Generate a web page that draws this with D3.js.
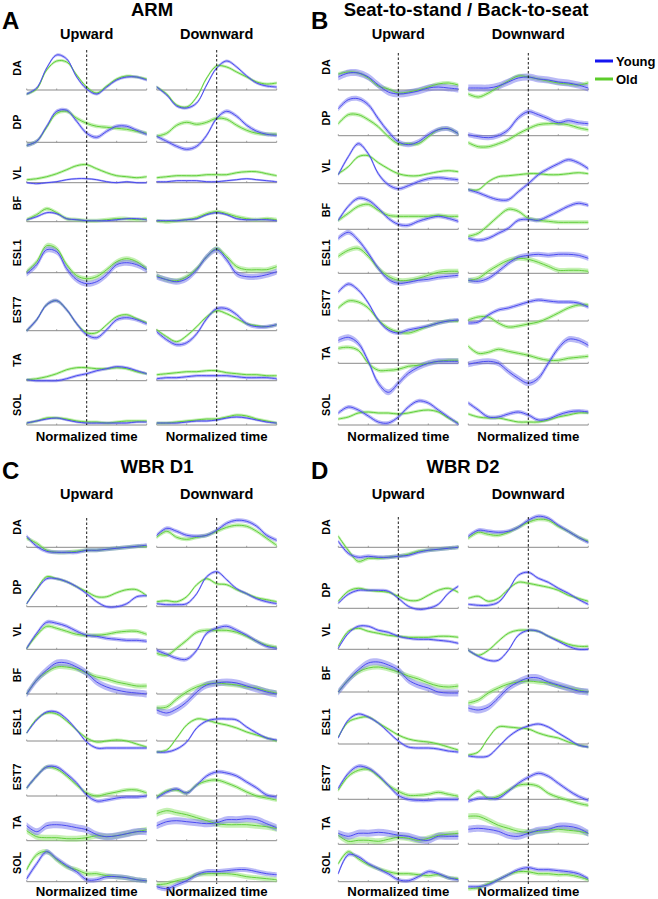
<!DOCTYPE html>
<html>
<head>
<meta charset="utf-8">
<script src="https://cdn.jsdelivr.net/npm/d3@7"></script>
<style>
  body { margin: 0; background: #fff; }
  text { font-family: "Liberation Sans", Arial, sans-serif; font-weight: bold; fill: #000; }
</style>
</head>
<body>
<div id="container"></div>
<script>
/* DATA */
// normalized time, 13 samples per curve
const T = d3.range(13).map(i => i / 12);
const muscles = ["DA", "DP", "VL", "BF", "ESL1", "EST7", "TA", "SOL"];
const groups = ["Young", "Old"];

// ARM
const armUpYoung = [
  [-0.4, 0.2, 2.2, 3.5, 3.1, 1.3, 0.1, -0.4, 0.3, 1.0, 1.3, 1.3, 1.0],
  [-0.3, 0.1, 1.6, 3.1, 3.2, 2.1, 0.9, 0.5, 1.1, 1.6, 1.6, 1.2, 0.8],
  [0, -0.1, 0, 0.1, 0.3, 0.4, 0.4, 0.3, 0.1, 0, 0.1, 0, 0],
  [0.2, 0.5, 0.9, 0.8, 0.3, 0.2, 0.1, 0.1, 0.1, 0.2, 0.3, 0.3, 0.2],
  [-0.1, 0.8, 2.3, 2.1, 0.4, -0.7, -1.1, -0.9, -0.2, 0.8, 1.0, 0.8, 0.3],
  [0, 1.1, 2.6, 3.0, 2.1, 0.7, -0.4, -0.7, 0.1, 1.1, 1.3, 1.1, 0.7],
  [0.1, 0, 0, 0, 0.2, 0.5, 0.7, 1.0, 1.2, 1.4, 1.3, 1.0, 0.7],
  [0.2, 0.4, 0.6, 0.7, 0.5, 0.3, 0.2, 0.2, 0.2, 0.2, 0.2, 0.3, 0.3]
];
const armUpOld = [
  [-0.4, 0.1, 2.0, 2.9, 2.8, 1.5, 0.3, -0.3, 0.4, 1.1, 1.4, 1.3, 1.1],
  [-0.3, 0.1, 1.5, 2.9, 3.1, 2.4, 1.9, 1.6, 1.5, 1.4, 1.3, 1.1, 0.9],
  [0.3, 0.4, 0.6, 0.9, 1.3, 1.7, 1.8, 1.4, 1.0, 0.7, 0.6, 0.5, 0.6],
  [0.2, 0.7, 1.3, 0.9, 0.3, 0.2, 0.1, 0.1, 0.2, 0.3, 0.3, 0.2, 0.3],
  [0.1, 1.1, 2.7, 2.4, 0.8, -0.3, -0.6, -0.4, 0.3, 1.1, 1.4, 1.1, 0.4],
  [0, 1.1, 2.6, 3.0, 2.1, 0.7, -0.2, -0.2, 0.6, 1.4, 1.6, 1.2, 0.8],
  [0.1, 0.2, 0.4, 0.7, 1.1, 1.3, 1.3, 1.2, 1.2, 1.3, 1.2, 0.9, 0.7],
  [0.2, 0.4, 0.7, 0.7, 0.6, 0.4, 0.3, 0.3, 0.2, 0.3, 0.4, 0.4, 0.4]
];
const armDownYoung = [
  [0.3, -0.5, -1.6, -1.8, -1.3, 0.5, 2.2, 2.9, 2.3, 1.4, 0.7, 0.4, 0.3],
  [0.6, 0.1, -0.4, -0.7, -0.4, 0.7, 2.4, 3.1, 2.6, 1.7, 1.1, 0.8, 0.7],
  [0.1, 0.1, 0.2, 0.2, 0.2, 0.1, 0.1, 0.2, 0.3, 0.4, 0.3, 0.2, 0.1],
  [0.1, 0.1, 0.1, 0.2, 0.3, 0.7, 0.9, 0.7, 0.3, 0.2, 0.2, 0.2, 0.1],
  [-0.4, -0.7, -0.9, -0.6, 0.3, 1.6, 2.3, 1.3, -0.1, -0.4, -0.4, -0.2, 0.1],
  [-0.1, -0.9, -1.4, -1.2, -0.3, 1.2, 2.2, 2.2, 1.6, 0.7, 0.4, 0.4, 0.6],
  [0.2, 0.3, 0.3, 0.4, 0.5, 0.5, 0.5, 0.5, 0.4, 0.3, 0.3, 0.3, 0.2],
  [0.2, 0.2, 0.2, 0.3, 0.4, 0.4, 0.5, 0.7, 0.8, 0.7, 0.5, 0.3, 0.2]
];
const armDownOld = [
  [0.3, -0.4, -1.5, -1.7, -0.7, 1.2, 2.4, 2.3, 1.8, 1.3, 0.8, 0.6, 0.7],
  [0.6, 0.9, 1.7, 2.0, 1.8, 2.0, 2.4, 2.3, 1.7, 1.2, 0.9, 0.8, 0.8],
  [0.5, 0.6, 0.7, 0.7, 0.7, 0.8, 0.8, 0.8, 1.0, 1.1, 1.1, 0.9, 0.7],
  [0.1, 0, 0.1, 0.2, 0.4, 0.8, 1.0, 0.8, 0.5, 0.3, 0.2, 0.3, 0.2],
  [-0.3, -0.7, -0.8, -0.4, 0.4, 1.6, 2.4, 1.6, 0.6, 0.3, 0.3, 0.3, 0.6],
  [0.1, -0.6, -1.1, -0.5, 0.4, 1.4, 2.0, 1.7, 1.2, 0.7, 0.5, 0.4, 0.6],
  [0.6, 0.7, 0.8, 0.9, 0.9, 1.0, 1.0, 0.8, 0.7, 0.6, 0.6, 0.5, 0.5],
  [0.2, 0.2, 0.3, 0.4, 0.5, 0.6, 0.6, 0.8, 1.0, 0.9, 0.6, 0.4, 0.2]
];
const armSdYoung = [0.15, 0.2, 0.1, 0.12, 0.3, 0.2, 0.15, 0.12];
const armSdOld = [0.15, 0.2, 0.15, 0.2, 0.25, 0.15, 0.15, 0.15];

// Seat-to-stand / Back-to-seat
const stsUpYoung = [
  [1.3, 1.7, 1.7, 1.3, 0.5, -0.2, -0.4, -0.3, -0.1, 0.2, 0.3, 0.2, 0.1],
  [2.7, 3.6, 3.7, 3.1, 1.7, 0.4, -0.6, -0.9, -0.6, 0.1, 0.6, 0.7, 0.2],
  [0.9, 2.7, 4.0, 3.0, 1.0, -0.1, -0.5, -0.2, 0.2, 0.5, 0.6, 0.5, 0.4],
  [0.9, 2.3, 3.1, 2.9, 2.1, 1.1, 0.5, 0.4, 0.8, 1.1, 1.3, 1.1, 0.8],
  [3.5, 4.1, 3.3, 2.0, 0.5, -0.6, -1.0, -0.9, -0.7, -0.6, -0.4, -0.3, -0.2],
  [2.9, 3.7, 3.1, 1.8, 0.1, -0.9, -1.2, -0.9, -0.7, -0.5, -0.2, 0, 0.1],
  [2.3, 2.6, 2.0, 0.2, -2.0, -2.9, -2.0, -1.0, -0.4, 0, 0.2, 0.2, 0.2],
  [1.2, 1.8, 1.5, 0.9, 0.3, 0.2, 0.8, 1.8, 2.4, 2.2, 1.5, 0.8, 0.1]
];
const stsUpOld = [
  [1.6, 1.8, 1.7, 1.2, 0.4, 0.1, -0.3, -0.2, 0, 0.3, 0.6, 0.7, 0.5],
  [1.2, 2.1, 2.1, 1.6, 0.9, -0.1, -0.8, -0.8, -0.8, -0.1, 0.6, 0.7, 0.2],
  [1.0, 1.7, 2.7, 2.8, 2.1, 1.5, 1.0, 0.8, 0.8, 1.0, 1.2, 1.3, 1.2],
  [0.9, 1.6, 2.3, 2.5, 1.9, 1.4, 1.3, 1.3, 1.3, 1.3, 1.4, 1.3, 1.3],
  [1.7, 2.3, 2.5, 1.7, 0.5, -0.3, -0.7, -0.7, -0.5, -0.2, 0.1, 0.2, 0.2],
  [1.3, 2.0, 1.9, 1.3, 0.1, -0.7, -1.1, -1.2, -0.9, -0.5, -0.2, 0, 0],
  [1.5, 1.6, 1.3, 0, -0.7, -0.7, -0.6, -0.3, -0.2, 0, 0.2, 0.3, 0.3],
  [0.6, 0.8, 1.2, 1.3, 1.2, 1.2, 1.1, 1.2, 1.4, 1.5, 1.3, 0.7, 0.2]
];
const stsDownYoung = [
  [0.2, 0.2, 0.2, 0.4, 0.8, 1.2, 1.3, 1.1, 1.0, 0.8, 0.7, 0.5, 0.2],
  [0.1, -0.1, -0.2, 0, 0.6, 1.8, 2.4, 2.1, 1.7, 1.3, 1.5, 1.3, 1.2],
  [-0.6, -0.9, -1.3, -1.6, -1.6, -0.8, 0, 0.9, 1.5, 2.0, 2.4, 2.1, 1.5],
  [-0.9, -1.1, -0.9, -0.4, 0.1, 0.9, 1.0, 0.9, 1.3, 1.8, 2.3, 2.6, 2.4],
  [-0.7, -0.8, -0.5, 0.2, 1.0, 1.6, 1.8, 1.9, 1.8, 1.9, 1.9, 1.8, 1.5],
  [-0.2, -0.1, 0.6, 1.1, 1.3, 1.6, 1.9, 2.1, 2.0, 1.9, 1.9, 1.8, 1.4],
  [-0.1, 0.1, 0.2, 0, -0.8, -1.5, -2.0, -1.5, 0, 1.5, 2.4, 2.3, 1.8],
  [2.2, 1.5, 0.8, 0.8, 1.1, 1.3, 1.0, 0.5, 0.6, 1.0, 1.3, 1.4, 1.3]
];
const stsDownOld = [
  [-0.4, -0.7, -0.3, 0.3, 0.9, 1.4, 1.3, 1.1, 0.9, 0.7, 0.6, 0.5, 0.7],
  [-0.7, -1.1, -1.1, -0.8, -0.4, 0.2, 0.7, 1.1, 1.2, 1.2, 1.1, 0.8, 0.6],
  [-0.6, -0.6, 0.2, 0.7, 0.8, 0.9, 1.0, 1.0, 0.9, 0.9, 1.0, 1.1, 1.0],
  [-0.7, -0.4, 0.4, 1.3, 2.0, 1.8, 1.1, 0.9, 0.8, 0.7, 0.7, 0.7, 0.7],
  [-0.7, -0.5, 0.2, 0.8, 1.3, 1.5, 1.4, 1.1, 0.7, 0.3, 0.3, 0.3, 0.2],
  [0.1, 0.4, 0.4, -0.2, -0.6, -0.5, -0.3, -0.1, 0.3, 0.8, 1.3, 1.6, 1.6],
  [1.7, 1.0, 1.1, 1.4, 1.2, 1.0, 0.8, 0.5, 0.3, 0.3, 0.5, 0.6, 0.7],
  [1.1, 0.8, 0.7, 0.7, 0.5, 0.3, 0.3, 0.3, 0.5, 0.8, 1.0, 1.2, 1.2]
];
const stsSdYoung = [0.35, 0.25, 0.2, 0.2, 0.25, 0.2, 0.3, 0.2];
const stsSdOld = [0.2, 0.2, 0.15, 0.2, 0.25, 0.2, 0.2, 0.15];

// WBR D1
const wbr1UpYoung = [
  [1.1, 0.1, -0.4, -0.5, -0.5, -0.5, -0.3, -0.3, -0.2, -0.1, 0, 0.1, 0.2],
  [0.3, 1.7, 2.8, 2.8, 2.5, 2.0, 1.3, 0.5, 0, 0, 0.3, 1.0, 1.1],
  [0.1, 1.6, 2.7, 2.6, 2.3, 1.8, 1.4, 1.3, 1.1, 1.0, 0.9, 0.9, 0.8],
  [0, 1.4, 2.4, 3.1, 3.1, 2.7, 2.1, 1.2, 0.7, 0.4, 0.2, 0.1, 0],
  [0.8, 2.1, 2.9, 2.9, 2.2, 1.1, -0.1, -0.7, -0.7, -0.7, -0.7, -0.7, -0.7],
  [0.8, 2.0, 2.9, 2.9, 2.2, 1.3, 0.1, -0.5, -0.4, -0.2, -0.1, -0.1, 0],
  [1.5, 0.9, 1.5, 1.6, 1.5, 1.3, 1.1, 0.6, 0.4, 0.5, 0.7, 0.9, 0.9],
  [0.3, 1.8, 3.0, 2.3, 1.6, 1.0, 0.2, 0.2, 0.5, 0.5, 0.4, 0.2, 0.1]
];
const wbr1UpOld = [
  [0.9, 0.4, -0.3, -0.5, -0.5, -0.4, -0.3, -0.3, -0.2, -0.1, 0, 0.1, 0.1],
  [0.3, 1.8, 3.0, 2.8, 2.5, 2.0, 1.5, 1.0, 1.0, 1.4, 1.7, 1.7, 1.1],
  [0.1, 1.4, 2.3, 2.1, 1.8, 1.5, 1.4, 1.4, 1.5, 1.7, 1.8, 1.8, 1.5],
  [0, 1.4, 2.2, 2.7, 2.7, 2.5, 2.1, 1.7, 1.5, 1.2, 1.0, 0.8, 0.8],
  [0.8, 2.2, 2.8, 2.7, 2.0, 1.1, 0.3, -0.1, 0, 0.1, 0, -0.3, -0.6],
  [0.8, 2.0, 2.9, 2.7, 2.0, 1.1, 0.3, 0, 0.2, 0.4, 0.6, 0.6, 0.3],
  [1.0, 0.4, 0.3, 0.3, 0.2, 0.2, 0.3, 0.5, 0.4, 0.5, 0.7, 0.9, 1.1],
  [1.2, 2.7, 3.0, 2.2, 1.5, 1.2, 0.8, 0.8, 0.6, 0.5, 0.4, 0.2, 0.1]
];
const wbr1DownYoung = [
  [1.2, 1.9, 1.6, 1.2, 1.1, 1.2, 1.7, 2.4, 2.7, 2.6, 2.1, 1.2, 0.7],
  [0.3, 0.2, 0.2, 0.3, 1.3, 3.0, 3.5, 2.7, 1.8, 1.3, 0.8, 0.5, 0.3],
  [-0.1, -0.5, -0.9, -1.0, -0.1, 1.6, 2.1, 2.3, 1.9, 1.4, 0.8, 0.3, 0.1],
  [-1.6, -1.9, -1.5, -0.8, 0.2, 0.9, 1.1, 1.2, 1.1, 0.8, 0.5, 0.2, 0],
  [-1.1, -1.1, -0.8, -0.1, 1.3, 2.0, 2.2, 2.2, 2.1, 1.4, 0.8, 0.3, 0.1],
  [-0.2, 0.4, 0.7, 0.3, 1.1, 2.0, 2.4, 2.3, 2.0, 1.4, 0.8, 0.1, -0.1],
  [1.5, 1.9, 2.0, 1.9, 1.8, 1.7, 1.8, 2.1, 2.1, 2.2, 2.1, 1.7, 1.3],
  [-0.5, -0.7, -0.3, 0.1, 0.7, 1.0, 1.0, 1.1, 1.2, 1.2, 1.0, 0.8, 0.7]
];
const wbr1DownOld = [
  [1.0, 1.6, 1.0, 0.8, 1.0, 1.2, 1.6, 2.0, 2.2, 2.1, 1.6, 0.9, 0.2],
  [0.5, 0.6, 0.5, 1.0, 2.2, 2.8, 2.3, 2.2, 1.7, 1.3, 0.9, 0.7, 0.5],
  [-0.4, -0.6, 0.1, 0.9, 1.7, 1.9, 1.9, 1.9, 1.7, 1.3, 0.8, 0.4, 0.2],
  [-1.4, -1.3, -0.5, 0.2, 0.7, 1.0, 1.1, 1.0, 0.9, 0.7, 0.6, 0.3, 0.1],
  [-1.1, -0.9, 0.3, 1.6, 2.2, 2.1, 1.8, 1.6, 1.3, 0.9, 0.6, 0.3, 0],
  [-0.1, 0.5, 0.6, 0.3, 1.1, 1.5, 1.6, 1.3, 0.9, 0.4, 0, -0.2, -0.4],
  [2.7, 3.0, 2.8, 2.6, 2.3, 2.0, 1.7, 1.6, 1.6, 1.6, 1.5, 1.4, 1.2],
  [-0.3, -0.2, 0.1, 0.3, 0.7, 0.8, 0.8, 0.8, 0.7, 0.5, 0.4, 0.3, 0.2]
];
const wbr1SdYoung = [0.2, 0.15, 0.2, 0.35, 0.15, 0.2, 0.35, 0.25];
const wbr1SdOld = [0.2, 0.15, 0.2, 0.25, 0.15, 0.2, 0.3, 0.25];

// WBR D2
const wbr2UpYoung = [
  [0.6, -0.6, -1.0, -0.9, -1.0, -1.0, -0.9, -0.8, -0.5, -0.3, -0.2, -0.1, 0],
  [0.5, 1.4, 1.8, 1.8, 1.8, 1.7, 1.0, 0.2, -0.1, 0, 0.4, 1.5, 2.2],
  [0.1, 1.6, 2.3, 2.3, 1.9, 1.7, 1.3, 1.1, 1.0, 1.0, 0.9, 0.8, 0.6],
  [0, 1.2, 2.2, 2.9, 3.0, 2.7, 2.2, 1.2, 0.7, 0.4, 0, -0.1, -0.1],
  [0.6, 2.4, 3.0, 2.7, 2.1, 1.2, 0.3, -0.3, -0.4, -0.4, -0.5, -0.7, -0.8],
  [1.1, 2.6, 3.3, 3.1, 2.4, 1.4, 0.4, 0, -0.1, -0.1, 0, 0, 0],
  [1.1, 0.8, 1.1, 1.1, 1.2, 1.1, 0.9, 0.8, 0.5, 0.4, 0.8, 0.8, 0.8],
  [0.8, 2.7, 2.5, 1.8, 1.3, 0.8, 0.2, 0.1, 0.5, 1.0, 0.8, 0.4, 0.2]
];
const wbr2UpOld = [
  [1.1, -0.3, -1.4, -1.1, -1.1, -1.0, -0.9, -0.7, -0.4, -0.3, -0.2, -0.1, 0],
  [0.7, 1.7, 2.0, 1.8, 1.7, 1.6, 1.2, 0.8, 0.8, 1.3, 1.8, 2.0, 1.6],
  [0.3, 1.8, 2.1, 1.8, 1.6, 1.4, 1.3, 1.2, 1.2, 1.2, 1.3, 1.3, 1.2],
  [0, 1.2, 2.0, 2.4, 2.5, 2.3, 2.0, 1.6, 1.3, 0.9, 0.6, 0.5, 0.6],
  [0.7, 2.2, 2.6, 2.7, 2.1, 1.5, 0.9, 0.5, 0.3, 0.2, 0, -0.3, -0.6],
  [0.9, 2.3, 2.9, 3.0, 2.3, 1.4, 0.8, 0.4, 0.4, 0.5, 0.7, 0.5, 0.3],
  [0.9, 0.3, 0.4, 0.4, 0.3, 0.5, 0.7, 0.6, 0.4, 0.6, 0.9, 1.0, 1.1],
  [1.8, 3.0, 2.3, 1.7, 1.3, 1.0, 0.8, 0.8, 0.7, 0.6, 0.7, 0.4, 0.3]
];
const wbr2DownYoung = [
  [1.1, 1.7, 1.6, 1.5, 1.6, 2.0, 2.7, 3.1, 2.9, 2.2, 1.6, 1.0, 0.5],
  [0.4, 0.3, 0.3, 0.6, 1.8, 3.3, 3.6, 3.0, 2.6, 2.0, 1.5, 0.9, 0.4],
  [-0.1, -0.7, -1.1, -1.1, -0.1, 1.4, 1.9, 1.8, 1.3, 0.8, 0.3, 0, 0],
  [-1.6, -1.8, -1.5, -0.6, 0.4, 1.0, 1.4, 1.4, 1.0, 0.7, 0.4, 0.1, 0],
  [-1.2, -1.3, -1.2, -0.3, 0.7, 1.4, 1.8, 2.0, 1.7, 1.1, 0.5, -0.1, -0.3],
  [-0.2, 0.1, 0.1, 0.1, 0.8, 1.6, 2.2, 2.6, 2.3, 1.6, 0.9, 0.3, -0.1],
  [1.5, 1.6, 1.5, 1.3, 0.9, 0.8, 1.1, 1.4, 1.5, 1.8, 1.8, 1.6, 1.1],
  [-0.5, -0.5, -0.3, 0.2, 0.7, 1.2, 1.4, 1.2, 1.2, 1.1, 1.0, 0.8, 0.3]
];
const wbr2DownOld = [
  [0.9, 1.5, 1.3, 1.2, 1.5, 2.0, 2.5, 2.8, 2.7, 2.1, 1.6, 1.0, 0.6],
  [1.0, 1.2, 0.7, 1.0, 1.9, 2.6, 2.5, 2.3, 2.1, 1.8, 1.3, 1.0, 0.7],
  [-0.1, -0.6, -0.1, 0.8, 1.6, 1.9, 1.9, 1.8, 1.3, 0.9, 0.5, 0.3, 0.3],
  [-1.1, -0.8, -0.1, 0.4, 0.8, 1.0, 1.1, 1.0, 0.9, 0.6, 0.4, 0.2, 0],
  [-1.1, -0.8, 0.6, 1.7, 1.7, 1.6, 1.5, 1.1, 0.8, 0.6, 0.2, -0.1, -0.3],
  [0.1, 0.8, 0.1, 0.3, 0.9, 1.4, 1.5, 1.3, 0.6, 0.2, -0.1, -0.4, -0.6],
  [2.8, 2.8, 2.4, 1.9, 1.6, 1.3, 1.2, 1.3, 1.4, 1.5, 1.4, 1.3, 1.1],
  [-0.7, -0.6, -0.2, 0.2, 0.7, 1.0, 1.0, 0.8, 0.8, 0.7, 0.7, 0.5, 0.2]
];
const wbr2SdYoung = [0.2, 0.15, 0.15, 0.35, 0.15, 0.2, 0.35, 0.2];
const wbr2SdOld = [0.2, 0.15, 0.15, 0.25, 0.15, 0.2, 0.3, 0.2];

/* LAYOUT */
const width = 658, height = 899;
const colW = 120, unit = 10; // px per amplitude unit
const colors = {
  Young: { line: "#4b4bf2", band: "rgba(100,100,235,0.45)", legend: "#1515f0" },
  Old: { line: "#62cf3c", band: "rgba(140,228,105,0.5)", legend: "#5ccc2a" }
};

const panels = [
  { letter: "A", title: "ARM", letterX: 2, letterY: 29, titleX: 152, titleY: 16, headY: 39, timeY: 441,
    colX: [26.7, 156.7], labX: 21, dash: [50, 425],
    base: [90, 142.3, 182.7, 221.7, 272.7, 330.7, 380.7, 425],
    lab: [68, 122, 173, 203, 253, 310, 360, 405],
    up: [armUpYoung, armUpOld], down: [armDownYoung, armDownOld], sd: [armSdYoung, armSdOld] },
  { letter: "B", title: "Seat-to-stand / Back-to-seat", letterX: 311, letterY: 29, titleX: 466, titleY: 16, headY: 39, timeY: 441,
    colX: [338.3, 468.3], labX: 330, dash: [53, 425],
    base: [90, 135.7, 183.7, 229.3, 273.3, 321, 363.3, 425],
    lab: [67, 118, 166, 210, 253, 303, 353, 405],
    up: [stsUpYoung, stsUpOld], down: [stsDownYoung, stsDownOld], sd: [stsSdYoung, stsSdOld] },
  { letter: "C", title: "WBR D1", letterX: 2, letterY: 479, titleX: 157, titleY: 473, headY: 499, timeY: 896,
    colX: [26.7, 156.7], labX: 21, dash: [518, 884],
    base: [547.3, 606.7, 649.3, 694, 741, 796, 840.7, 881.7],
    lab: [527, 587, 630, 675, 722, 777, 822, 863],
    up: [wbr1UpYoung, wbr1UpOld], down: [wbr1DownYoung, wbr1DownOld], sd: [wbr1SdYoung, wbr1SdOld] },
  { letter: "D", title: "WBR D2", letterX: 311, letterY: 479, titleX: 463, titleY: 473, headY: 499, timeY: 896,
    colX: [338.3, 468.3], labX: 330, dash: [517, 884],
    base: [547.3, 608.3, 649.3, 692, 744, 799.3, 844.3, 881.7],
    lab: [527, 590, 630, 673, 722, 778, 823, 863],
    up: [wbr2UpYoung, wbr2UpOld], down: [wbr2DownYoung, wbr2DownOld], sd: [wbr2SdYoung, wbr2SdOld] }
];

const svg = d3.select("#container")
  .append("svg")
  .attr("width", width)
  .attr("height", height)
  .style("background-color", "#fff");

const curve = d3.curveCatmullRom.alpha(0.5);

panels.forEach(p => {
  const g = svg.append("g");

  g.append("text").attr("x", p.letterX).attr("y", p.letterY)
    .style("font-size", "24px").text(p.letter);
  g.append("text").attr("x", p.titleX).attr("y", p.titleY)
    .attr("text-anchor", "middle").style("font-size", "18.5px").text(p.title);

  ["Upward", "Downward"].forEach((dir, c) => {
    const x = d3.scaleLinear().domain([0, 1]).range([p.colX[c], p.colX[c] + colW]);
    const series = c === 0 ? p.up : p.down;
    const cx = x(0.5);

    g.append("text").attr("x", cx).attr("y", p.headY)
      .attr("text-anchor", "middle").style("font-size", "14.5px").text(dir);
    g.append("text").attr("x", cx).attr("y", p.timeY)
      .attr("text-anchor", "middle").style("font-size", "13.2px").text("Normalized time");

    muscles.forEach((m, r) => {
      const y = d3.scaleLinear().domain([0, 1]).range([p.base[r], p.base[r] - unit]);

      // zero line with small ticks
      g.append("line")
        .attr("x1", x(0)).attr("x2", x(1))
        .attr("y1", y(0)).attr("y2", y(0))
        .attr("stroke", "#8a8a8a").attr("stroke-width", 1);
      g.selectAll(null)
        .data([0, 0.25, 0.5, 0.75, 1])
        .join("line")
        .attr("x1", d => x(d)).attr("x2", d => x(d))
        .attr("y1", y(0)).attr("y2", y(0) - 1.5)
        .attr("stroke", "#8a8a8a").attr("stroke-width", 0.8);

      // bands first, then lines (old under young)
      [1, 0].forEach(s => {
        const sd = p.sd[s][r];
        const area = d3.area()
          .x((d, i) => x(T[i]))
          .y0(d => y(d - sd))
          .y1(d => y(d + sd))
          .curve(curve);
        g.append("path")
          .datum(series[s][r])
          .attr("d", area)
          .attr("fill", colors[groups[s]].band);
      });
      [1, 0].forEach(s => {
        const line = d3.line()
          .x((d, i) => x(T[i]))
          .y(d => y(d))
          .curve(curve);
        g.append("path")
          .datum(series[s][r])
          .attr("d", line)
          .attr("fill", "none")
          .attr("stroke", colors[groups[s]].line)
          .attr("stroke-width", 1);
      });

      if (c === 0) {
        g.append("text")
          .attr("transform", `translate(${p.labX},${p.lab[r]}) rotate(-90)`)
          .attr("text-anchor", "middle")
          .style("font-size", "10.7px")
          .text(m);
      }
    });

    // event marker
    g.append("line")
      .attr("x1", cx).attr("x2", cx)
      .attr("y1", p.dash[0]).attr("y2", p.dash[1])
      .attr("stroke", "#000").attr("stroke-width", 0.9)
      .attr("stroke-dasharray", "2.5,2");
  });
});

// legend
const legend = svg.append("g").attr("transform", "translate(595,61)");
groups.forEach((grp, i) => {
  legend.append("line")
    .attr("x1", 0).attr("x2", 18)
    .attr("y1", i * 18).attr("y2", i * 18)
    .attr("stroke", colors[grp].legend).attr("stroke-width", 3);
  legend.append("text")
    .attr("x", 21).attr("y", i * 18 + 4.5)
    .style("font-size", "13px")
    .text(grp);
});
</script>
</body>
</html>
